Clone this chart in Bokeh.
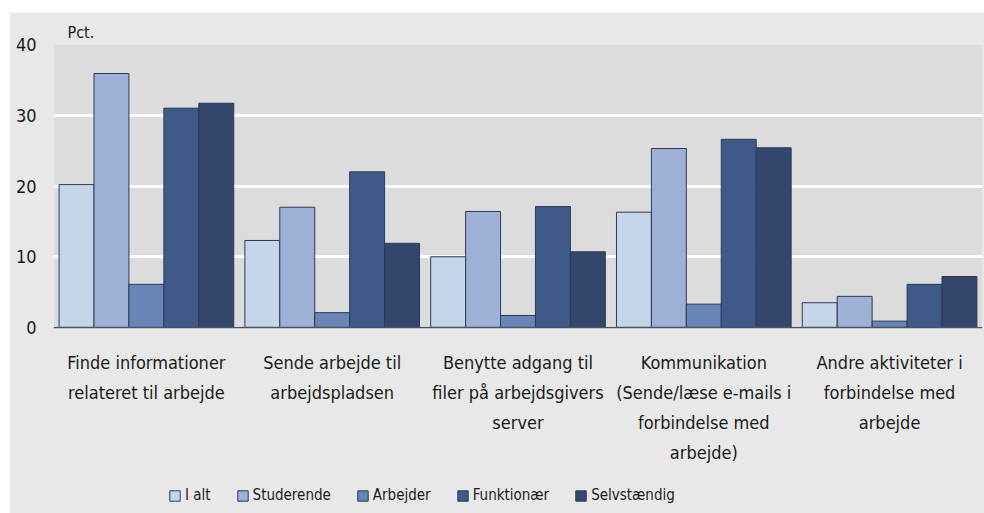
from bokeh.plotting import figure
from bokeh.models import (ColumnDataSource, FactorRange, Range1d, Legend, LegendItem,
                          LabelSet, BoxAnnotation, Span, Spacer)
from bokeh.layouts import column, row
from bokeh.transform import dodge
from bokeh.core.properties import value
from bokeh.embed import file_html
from bokeh.resources import INLINE

categories = ["Finde", "Sende", "Benytte", "Kommunikation", "Andre"]
category_labels = [
    ["Finde informationer", "relateret til arbejde"],
    ["Sende arbejde til", "arbejdspladsen"],
    ["Benytte adgang til", "filer på arbejdsgivers", "server"],
    ["Kommunikation", "(Sende/læse e-mails i", "forbindelse med", "arbejde)"],
    ["Andre aktiviteter i", "forbindelse med", "arbejde"],
]
series_names = ["I alt", "Studerende", "Arbejder", "Funktionær", "Selvstændig"]
i_alt = [20.2, 12.3, 10.0, 16.3, 3.5]
studerende = [35.9, 17.0, 16.4, 25.3, 4.4]
arbejder = [6.1, 2.1, 1.7, 3.3, 0.9]
funktionaer = [31.0, 22.0, 17.1, 26.6, 6.1]
selvstaendig = [31.7, 11.9, 10.7, 25.4, 7.2]
y_ticks = [0, 10, 20, 30, 40]

colors = ["#c6d6e9", "#9eb0d5", "#6a86b6", "#3f5988", "#33466b"]
OUTLINE = "#2b3a5a"
FONT = "DejaVu Sans Condensed"
TXT = "#1a1a1a"
OUTER = "#e8e8e8"
INNER = "#dcdcdc"

# layout geometry (pixels)
W, H = 975, 501
BORDER_L, BORDER_R, BORDER_T = 44, 2, 32
PLOT_H = 283            # height of the 0..40 area
Y_MAX = 40
PX_PER_UNIT = PLOT_H / Y_MAX
below_px = H - BORDER_T - PLOT_H
y_min = -below_px / PX_PER_UNIT   # space below zero for labels and legend
LABEL_FIRST_PX = 35     # first label line centre below zero line
LABEL_PITCH_PX = 30

source = ColumnDataSource(data=dict(
    cat=categories,
    s0=i_alt, s1=studerende, s2=arbejder, s3=funktionaer, s4=selvstaendig,
))

p = figure(width=W, height=H, x_range=FactorRange(factors=categories),
           y_range=Range1d(y_min, Y_MAX), output_backend="svg",
           toolbar_location=None, x_axis_location=None,
           min_border_left=BORDER_L, min_border_right=BORDER_R,
           min_border_top=BORDER_T, min_border_bottom=0, title="Pct.")
p.border_fill_color = OUTER
p.background_fill_color = INNER
p.outline_line_color = None

p.title.text_font = FONT
p.title.text_font_size = "16px"
p.title.text_font_style = "normal"
p.title.text_color = TXT
p.title.align = "left"
p.title.offset = 14
p.title.standoff = 6

# lighter area below the zero line
p.add_layout(BoxAnnotation(top=0, fill_color=OUTER, fill_alpha=1,
                           line_color=None, level="underlay"))

bw = 0.188
offsets = [-2 * bw, -bw, 0, bw, 2 * bw]
items = []
for i, (name, col) in enumerate(zip(series_names, colors)):
    r = p.vbar(x=dodge("cat", offsets[i], range=p.x_range), top="s%d" % i,
               width=bw, source=source, fill_color=col, line_color=OUTLINE,
               line_width=1)
    items.append(LegendItem(label=name, renderers=[r]))

# zero line
p.add_layout(Span(location=0, dimension="width", line_color="#4a5366",
                  line_width=1.5))

# y axis
p.yaxis.ticker = y_ticks
p.yaxis.axis_line_color = None
p.yaxis.major_tick_line_color = None
p.yaxis.minor_tick_line_color = None
p.yaxis.major_label_text_font_size = "18px"
p.yaxis.major_label_text_font = FONT
p.yaxis.major_label_text_color = TXT
p.yaxis.major_label_standoff = 11

p.xgrid.grid_line_color = None
p.ygrid.ticker = y_ticks
p.ygrid.grid_line_color = "white"
p.ygrid.grid_line_width = 3

# category labels below the zero line, one centred line each
lx, ly, lt = [], [], []
for cat, lines in zip(categories, category_labels):
    for k, line in enumerate(lines):
        lx.append(cat)
        ly.append(-(LABEL_FIRST_PX + k * LABEL_PITCH_PX) / PX_PER_UNIT)
        lt.append(line)
lab_src = ColumnDataSource(data=dict(cat=lx, y=ly, text=lt))
p.add_layout(LabelSet(x="cat", y="y", text="text", source=lab_src,
                      text_align="center", text_baseline="middle",
                      text_font=value(FONT), text_font_size="18px",
                      text_color=TXT))

legend = Legend(items=items, orientation="horizontal", location=(115, 9),
                glyph_width=13, glyph_height=13, label_standoff=4, spacing=25,
                padding=0, margin=0, background_fill_alpha=0,
                border_line_color=None,
                label_text_font=FONT, label_text_font_size="15px",
                label_text_color=TXT)
p.add_layout(legend, "center")

layout = column(Spacer(height=12), row(Spacer(width=9), p))
open("out.html", "w").write(file_html(layout, INLINE))
